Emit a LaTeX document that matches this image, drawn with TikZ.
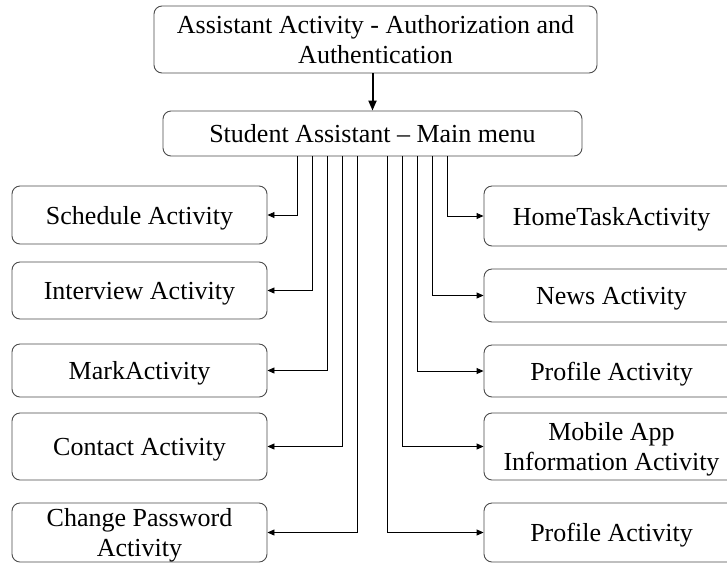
\documentclass[tikz,border=0pt]{standalone}
\usepackage{fontspec}
\setmainfont{Liberation Serif}
\usetikzlibrary{arrows.meta}
\begin{document}
\begin{tikzpicture}[x=1pt,y=-1pt,
  box/.style={draw=black!70, line width=0.9pt, rounded corners=8pt, inner sep=0pt,
    align=center, font=\fontsize{26}{30}\selectfont, text=black, text depth=0pt},
  side/.style={box, minimum width=255pt},
  conn/.style={draw=black, line width=0.9pt, -{Triangle[length=7pt,width=6pt]}},
  main/.style={draw=black, line width=2pt, -{Triangle[length=10pt,width=8pt]}}]
\clip (0,0) rectangle (727,563);
\useasboundingbox (0,0) rectangle (727,563);
\fill[white] (0,0) rectangle (727,563);

\node[box, minimum width=443pt, minimum height=67pt] (auth) at (375.5,39.5)
  {Assistant Activity - Authorization and\\Authentication};
\node[box, minimum width=419pt, minimum height=45pt] (menu) at (372.5,133.5)
  {Student Assistant -- Main menu};

\node[side, minimum height=58pt] (sched) at (139.5,215) {Schedule Activity};
\node[side, minimum height=57pt] (inter) at (139.5,290.5) {Interview Activity};
\node[side, minimum height=53pt] (mark) at (139.5,370.5) {MarkActivity};
\node[side, minimum height=67pt] (cont) at (139.5,446.5) {Contact Activity};
\node[side, minimum height=59pt] (pass) at (139.5,532.5) {Change Password\\Activity};

\node[side, minimum height=60pt] (home) at (611.5,216) {HomeTaskActivity};
\node[side, minimum height=53pt] (news) at (611.5,295.5) {News Activity};
\node[side, minimum height=52pt] (prof) at (611.5,371) {Profile Activity};
\node[side, minimum height=67pt] (mob) at (611.5,446.5) {Mobile App\\Information Activity};
\node[side, minimum height=59pt] (prof2) at (611.5,532.5) {Profile Activity};

\coordinate (l1) at (297,0);
\coordinate (l2) at (312,0);
\coordinate (l3) at (327,0);
\coordinate (l4) at (342,0);
\coordinate (l5) at (357,0);
\coordinate (r1) at (447,0);
\coordinate (r2) at (432,0);
\coordinate (r3) at (417,0);
\coordinate (r4) at (402,0);
\coordinate (r5) at (387.5,0);

\draw[main] (auth.south -| menu.north) -- (menu.north);

\draw[conn] (l1 |- menu.south) |- (sched.east);
\draw[conn] (l2 |- menu.south) |- (inter.east);
\draw[conn] (l3 |- menu.south) |- (mark.east);
\draw[conn] (l4 |- menu.south) |- (cont.east);
\draw[conn] (l5 |- menu.south) |- (pass.east);

\draw[conn] (r1 |- menu.south) |- (home.west);
\draw[conn] (r2 |- menu.south) |- (news.west);
\draw[conn] (r3 |- menu.south) |- (prof.west);
\draw[conn] (r4 |- menu.south) |- (mob.west);
\draw[conn] (r5 |- menu.south) |- (prof2.west);
\end{tikzpicture}
\end{document}
